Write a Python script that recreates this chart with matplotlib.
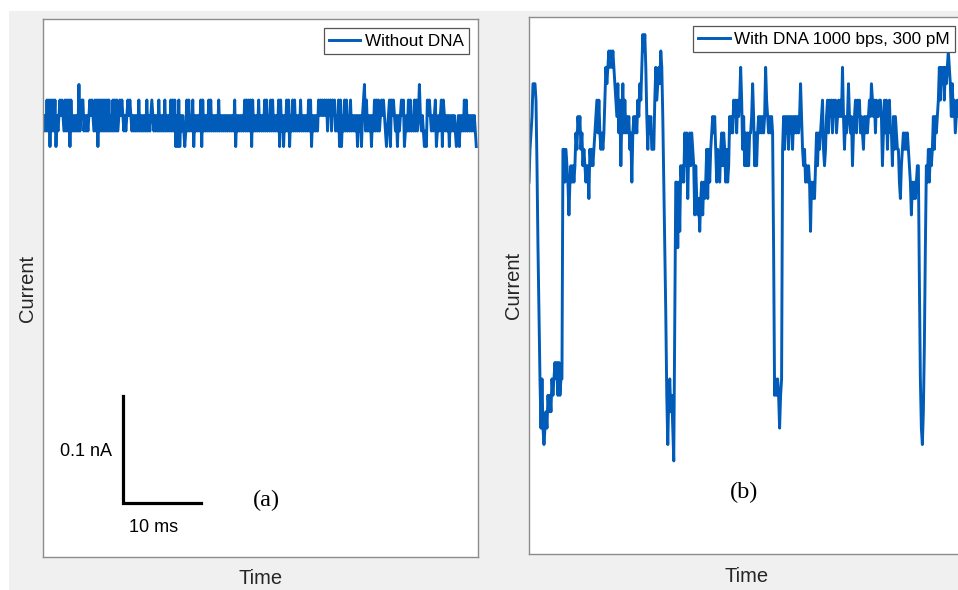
import numpy as np
import matplotlib.pyplot as plt
from matplotlib.patches import Rectangle

plt.rcParams['font.family'] = ['Liberation Sans', 'DejaVu Sans']

# sampling period of both recordings (ms) and one amplifier step (nA)
DT_MS = 0.128
STEP_NA = 0.0145

# (a) without DNA: level code per sample, '2' = open pore level, '0'..'4' = -2..+2 steps
trace_a_codes = (
    "2121313031" "3130212323" "2131313031" "2121214123" "3121212323"
    "2131303131" "3131313121" "3131312323" "2121232321" "2121213121"
    "2121312123" "2121213121" "2131212131" "3130203021" "2101313121"
    "3021212130" "3121213131" "2121213121" "2121212121" "2130212121"
    "2131313130" "3121213121" "2131312131" "3121213031" "2021313021"
    "3131212131" "2121213130" "2121213232" "3232313231" "3231213030"
    "2131312131" "2121202120" "2341312120" "2131313123" "2321012303"
    "2321202123" "2301213131" "2131312421" "2101032321" "2123012123"
    "0321212021" "2121012021" "2131312121" "21210"
)

# (b) with DNA 1000 bps, 300 pM: level (in steps) per sample
trace_b_levels = [
    -4, -2, -1, 0, 2, 2, 2, 1, -3, -8,
    -12, -16, -19, -16, -19, -20, -19, -18, -19, -17,
    -18, -17, -18, -16, -17, -16, -15, -16, -15, -17,
    -15, -17, -16, -16, -2, -2, -4, -2, -3, -4,
    -6, -4, -3, -4, -3, -4, -3, -1, -2, 0,
    -1, 0, -2, -1, -3, -2, -3, -4, -3, -3,
    -5, -2, -3, -2, -3, -2, -1, 0, 1, -1,
    1, -1, -2, -1, -2, -1, 1, 3, 2, 3,
    4, 3, 4, 3, 4, 3, 2, 1, 0, 2,
    -1, 1, -3, 0, 2, -1, 1, -1, 0, -1,
    0, -2, -1, -4, -1, 0, -1, 0, -1, 1,
    0, 2, 1, 3, 5, 4, 5, 3, 0, -2,
    0, -1, 0, -2, -2, -2, 1, 3, 1, 2,
    3, 2, 4, 3, 0, -4, -8, -12, -17, -20,
    -17, -16, -18, -17, -19, -21, -12, -4, -4, -8,
    -4, -7, -3, -4, -3, -4, -1, -3, -1, -5,
    -2, -1, -3, -1, -2, -3, -6, -3, -5, -6,
    -5, -7, -5, -4, -6, -4, -5, -4, -2, -5,
    -2, -4, -2, -1, 0, -1, 0, -2, -4, -2,
    -3, -4, -2, -1, -3, -1, -2, -4, -2, -4,
    -3, 0, -1, 0, -1, 1, 0, 1, -1, 1,
    0, 1, 3, 1, -2, 0, -3, -1, -3, -1,
    -3, -1, -1, 0, 2, 0, -3, -1, -3, -1,
    0, -1, 0, -1, 0, -1, 0, 3, 1, 0,
    -1, 0, -1, 0, -1, -8, -17, -16, -17, -16,
    -17, -19, -17, -16, -2, 0, -2, 0, -1, 0,
    -2, 0, -1, 0, -2, 0, -1, 0, -1, 0,
    -1, 0, 2, 0, -2, -3, -2, -4, -3, -4,
    -3, -4, -7, -4, -5, -4, -5, -3, -1, -3,
    -1, -2, -1, 0, 1, -2, -3, -2, 0, 1,
    -1, 1, 0, 1, -1, 1, 0, 1, -1, 0,
    1, 0, 1, 0, 3, 0, -2, 0, -1, 0,
    2, 0, -1, 0, -3, -1, 0, 1, -1, 1,
    0, 1, -1, 0, -1, -2, 0, -1, 0, -1,
    0, 1, 0, 2, 1, 0, 1, -1, 1, 0,
    0, 1, 1, 0, -3, -1, 1, -1, 1, -2,
    0, 1, -1, -1, -3, 0, -2, 0, -1, -2,
    -2, -4, -5, -3, -2, -1, -2, -1, -2, -1,
    -2, -3, -4, -6, -4, -5, -4, -5, -4, -3,
    -3, -10, -16, -19, -20, -18, -14, -8, -3, -4,
    -2, -4, -2, -3, -2, 0, -2, 0, -1, 0,
    1, 3, 1, 3, 2, 3, 1, 3, 2, 3,
    4, 3, 2, 0, 2, 0, 1, -1, 0, 1,
    0, 1, 0, 1, 0,
]

legend_a = 'Without DNA'
legend_b = 'With DNA 1000 bps, 300 pM'
tag_a, tag_b = '(a)', '(b)'

# scale bar of panel (a)
bar_t0_ms = 10.2
bar_i0_na = -0.362
bar_len_ms = 10
bar_len_na = 0.1
bar_label_i = '0.1 nA'
bar_label_t = '10 ms'

SPAN_MS = 55.77
LINE_C = '#005cb8'

cur_a = (np.array([int(c) for c in trace_a_codes]) - 2) * STEP_NA
cur_b = np.array(trace_b_levels) * STEP_NA
t_a = np.arange(len(cur_a)) * DT_MS
t_b = np.arange(len(cur_b)) * DT_MS

fig = plt.figure(figsize=(9.58, 5.90), dpi=100, facecolor='white')
fig.add_artist(Rectangle((9 / 958, 0), 1, 579 / 590, transform=fig.transFigure,
                         facecolor='#f0f0f0', edgecolor='none', zorder=-10))

ax1 = fig.add_axes([43 / 958, 33 / 590, 435 / 958, 538 / 590])
ax2 = fig.add_axes([529 / 958, 36 / 590, 435 / 958, 537 / 590])

ax1.plot(t_a, cur_a, color=LINE_C, lw=2.1, label=legend_a)
ax1.set_ylim(-0.4126, 0.0902)

ax2.plot(t_b, cur_b, color=LINE_C, lw=2.1, label=legend_b)
ax2.set_ylim(-0.3868, 0.0880)

for ax in (ax1, ax2):
    ax.set_xlim(0, SPAN_MS)
    ax.set_xticks([])
    ax.set_yticks([])
    ax.set_facecolor('white')
    for s in ax.spines.values():
        s.set_color('#8c8c8c')
        s.set_linewidth(1.0)
    ax.set_xlabel('Time', fontsize=14.5, color='#262626', labelpad=9)
    ax.set_ylabel('Current', fontsize=14.5, color='#262626', labelpad=4)
    leg = ax.legend(loc='upper right', fontsize=12.3, handlelength=1.85,
                    handletextpad=0.25, borderpad=0.3, borderaxespad=0.55,
                    fancybox=False, framealpha=1)
    leg.get_frame().set_edgecolor('#555555')
    leg.get_frame().set_linewidth(0.9)

# scale bar
ax1.plot([bar_t0_ms, bar_t0_ms, bar_t0_ms + bar_len_ms],
         [bar_i0_na + bar_len_na, bar_i0_na, bar_i0_na],
         color='black', lw=2.3, solid_joinstyle='miter')
ax1.text(bar_t0_ms - 1.4, bar_i0_na + bar_len_na * 0.48, bar_label_i,
         ha='right', va='center', fontsize=13)
ax1.text(14.2, -0.3846, bar_label_t, ha='center', va='center', fontsize=13)

ax1.text(28.6, -0.360, tag_a, ha='center', va='center', fontsize=17.5,
         family='Liberation Serif')
ax2.text(27.6, -0.332, tag_b, ha='center', va='center', fontsize=17.5,
         family='Liberation Serif')

fig.savefig('out.png', dpi=100, facecolor=fig.get_facecolor())
